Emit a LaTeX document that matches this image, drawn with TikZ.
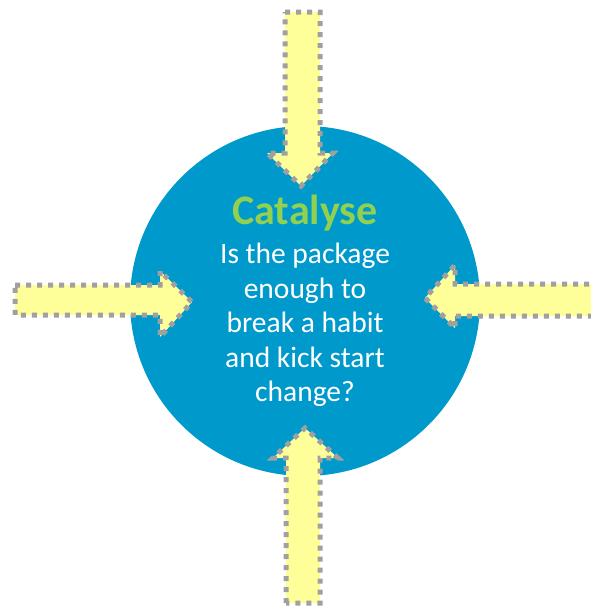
\documentclass[tikz,border=0pt]{standalone}
\usepackage{fontspec}
\setmainfont{Carlito}
\definecolor{catblue}{RGB}{0,153,204}
\definecolor{arrowfill}{RGB}{255,255,153}
\definecolor{dotgray}{RGB}{160,160,160}
\definecolor{catgreen}{RGB}{146,208,80}

\begin{document}
\begin{tikzpicture}[x=1pt, y=-1pt, hub/.style={circle, fill=catblue, minimum size=350pt, inner sep=0pt, text=white, align=center, font=\fontsize{29.5}{34.5}\selectfont}, push arrow/.style={fill=arrowfill, draw=dotgray, line width=5pt, dash pattern=on 5pt off 6pt, line join=miter}]
\useasboundingbox (0,0) rectangle (591,606);
\node [hub] (hub) at (305,301) {{\fontsize{42}{40}\selectfont\bfseries\color{catgreen}Catalyse}\\[5pt]Is the package\\enough to\\break a habit\\and kick start\\change?};

\draw [push arrow] (285,12) -- (320,12) -- (320,153) -- (333,153) -- (301,186) -- (267,153) -- (285,153) -- cycle;
\draw [push arrow] (15,285) -- (160,285) -- (160,271) -- (192,302) -- (160,337) -- (160,315) -- (15,315) -- cycle;
\draw [push arrow] (286,603) -- (286,458) -- (273,458) -- (305,428) -- (338,458) -- (320,458) -- (320,603) -- cycle;
\draw [push arrow] (600,284) -- (455,284) -- (455,265) -- (425,298) -- (455,328) -- (455,316) -- (600,316);
\end{tikzpicture}
\end{document}
